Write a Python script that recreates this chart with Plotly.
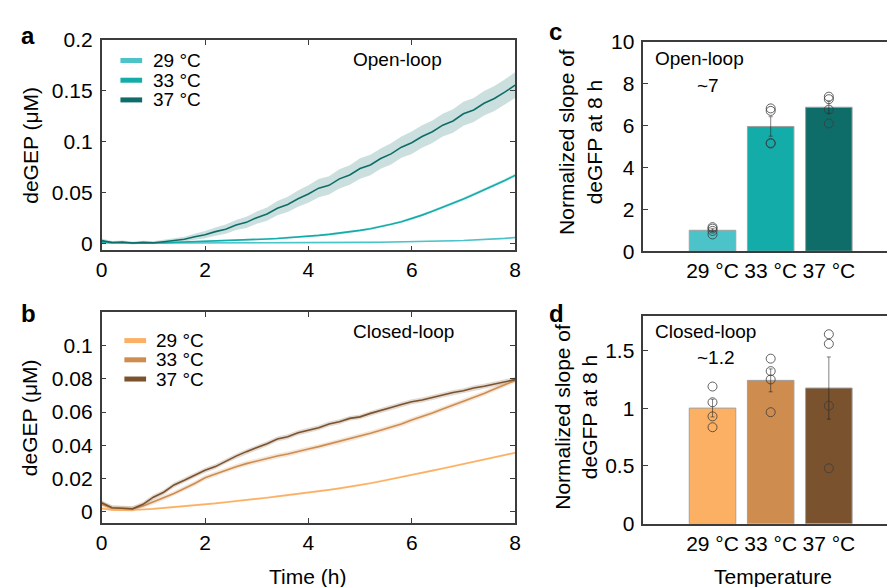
import plotly.graph_objects as go
import numpy as np

W, H = 893, 587
FONT = "Liberation Sans, Arial, sans-serif"

# ---------------- data ----------------
TIME_H = [round(0.2 * i, 1) for i in range(41)]
TEMPS = ["29 °C", "33 °C", "37 °C"]

# panel a: open-loop deGFP (uM)
OPEN_29 = [0.0010, 0.0008, 0.0007, 0.0006, 0.0006, 0.0006, 0.0006, 0.0006, 0.0006, 0.0006,
           0.0007, 0.0007, 0.0007, 0.0007, 0.0008, 0.0008, 0.0008, 0.0008, 0.0009, 0.0009,
           0.0009, 0.0010, 0.0010, 0.0011, 0.0011, 0.0012, 0.0013, 0.0014, 0.0015, 0.0016,
           0.0018, 0.0020, 0.0022, 0.0025, 0.0028, 0.0031, 0.0035, 0.0040, 0.0045, 0.0052, 0.0060]
OPEN_33 = [0.0020, 0.0010, 0.0008, 0.0006, 0.0006, 0.0007, 0.0009, 0.0012, 0.0015, 0.0018,
           0.0021, 0.0025, 0.0028, 0.0032, 0.0036, 0.0041, 0.0046, 0.0051, 0.0057, 0.0064,
           0.0072, 0.0081, 0.0091, 0.0102, 0.0115, 0.0130, 0.0147, 0.0167, 0.0190, 0.0215,
           0.0245, 0.0280, 0.0317, 0.0356, 0.0396, 0.0438, 0.0482, 0.0527, 0.0573, 0.0620, 0.0670]
OPEN_37 = [0.0030, 0.0012, 0.0016, 0.0006, 0.0013, 0.0009, 0.0019, 0.0031, 0.0043, 0.0068,
           0.0088, 0.0118, 0.0142, 0.0183, 0.0209, 0.0255, 0.0291, 0.0348, 0.0385, 0.0441,
           0.0487, 0.0545, 0.0572, 0.0636, 0.0674, 0.0738, 0.0772, 0.0835, 0.0881, 0.0947,
           0.0991, 0.1052, 0.1098, 0.1163, 0.1204, 0.1275, 0.1312, 0.1378, 0.1425, 0.1487, 0.1555]
OPEN_29_SD = [0.0006] * 41
OPEN_33_SD = [0.0008, 0.0008, 0.0008, 0.0008, 0.0008, 0.0008, 0.0008, 0.0008, 0.0008, 0.0008,
              0.0008, 0.0008, 0.0008, 0.0008, 0.0008, 0.0009, 0.0009, 0.0009, 0.0009, 0.0010,
              0.0010, 0.0010, 0.0011, 0.0011, 0.0011, 0.0012, 0.0012, 0.0012, 0.0013, 0.0013,
              0.0014, 0.0014, 0.0015, 0.0015, 0.0016, 0.0016, 0.0017, 0.0017, 0.0018, 0.0018, 0.0019]
OPEN_37_SD = [0.0020, 0.0015, 0.0015, 0.0015, 0.0015, 0.0015, 0.0020, 0.0020, 0.0025, 0.0030,
              0.0035, 0.0040, 0.0045, 0.0050, 0.0055, 0.0060, 0.0065, 0.0070, 0.0075, 0.0080,
              0.0085, 0.0090, 0.0090, 0.0095, 0.0095, 0.0100, 0.0100, 0.0100, 0.0105, 0.0105,
              0.0110, 0.0110, 0.0110, 0.0112, 0.0115, 0.0117, 0.0118, 0.0120, 0.0122, 0.0124, 0.0126]

# panel b: closed-loop deGFP (uM)
CLOSED_29 = [0.0020, 0.0012, 0.0010, 0.0011, 0.0014, 0.0018, 0.0023, 0.0028, 0.0034, 0.0039,
             0.0045, 0.0051, 0.0058, 0.0064, 0.0071, 0.0078, 0.0085, 0.0093, 0.0100, 0.0108,
             0.0115, 0.0124, 0.0132, 0.0141, 0.0150, 0.0160, 0.0172, 0.0184, 0.0196, 0.0209,
             0.0222, 0.0235, 0.0248, 0.0261, 0.0274, 0.0287, 0.0301, 0.0314, 0.0328, 0.0341, 0.0355]
CLOSED_33 = [0.0045, 0.0022, 0.0020, 0.0019, 0.0035, 0.0060, 0.0085, 0.0110, 0.0140, 0.0170,
             0.0205, 0.0228, 0.0252, 0.0271, 0.0290, 0.0306, 0.0322, 0.0336, 0.0348, 0.0361,
             0.0378, 0.0392, 0.0408, 0.0421, 0.0440, 0.0456, 0.0472, 0.0490, 0.0508, 0.0528,
             0.0552, 0.0572, 0.0594, 0.0618, 0.0641, 0.0665, 0.0690, 0.0712, 0.0738, 0.0762, 0.0790]
CLOSED_37 = [0.0055, 0.0025, 0.0022, 0.0018, 0.0045, 0.0088, 0.0118, 0.0162, 0.0190, 0.0222,
             0.0250, 0.0272, 0.0305, 0.0335, 0.0362, 0.0385, 0.0410, 0.0438, 0.0452, 0.0475,
             0.0488, 0.0505, 0.0528, 0.0542, 0.0562, 0.0571, 0.0592, 0.0608, 0.0628, 0.0645,
             0.0662, 0.0672, 0.0688, 0.0702, 0.0718, 0.0728, 0.0745, 0.0755, 0.0768, 0.0782, 0.0795]
CLOSED_29_SD = [0.0007] * 41
CLOSED_33_SD = [0.0015] * 41
CLOSED_37_SD = [0.0015] * 41

# panels c, d: normalized slope at 8 h (individual replicates)
OPEN_SLOPE_PTS = [[1.15, 1.08, 0.97, 0.80],
                  [6.82, 6.70, 5.17, 5.14],
                  [7.38, 7.26, 6.76, 6.10]]
CLOSED_SLOPE_PTS = [[1.187, 1.051, 0.929, 0.835],
                    [1.428, 1.320, 1.248, 0.965],
                    [1.639, 1.556, 1.021, 0.480]]

A_COLORS = ["#4cc3c9", "#14aca9", "#0f6d69"]
B_COLORS = ["#fcb063", "#cf8c4f", "#7a522e"]


def dx(px):
    return px / W


def dy(px):
    return 1 - px / H


def rgba(hexc, a):
    h = hexc.lstrip("#")
    r, g, b = int(h[0:2], 16), int(h[2:4], 16), int(h[4:6], 16)
    return f"rgba({r},{g},{b},{a})"


fig = go.Figure()


def add_curves(series, sds, colors, xa, ya):
    t = TIME_H
    for y, sd, c in zip(series, sds, colors):
        y = np.array(y)
        sd = np.array(sd)
        up = (y + sd).tolist()
        lo = (y - sd).tolist()
        fig.add_trace(go.Scatter(x=t + t[::-1], y=up + lo[::-1], fill="toself",
                                 fillcolor=rgba(c, 0.22), line=dict(width=0),
                                 hoverinfo="skip", showlegend=False, xaxis=xa, yaxis=ya))
    for y, c, name in zip(series, colors, TEMPS):
        fig.add_trace(go.Scatter(x=t, y=y, mode="lines", name=name,
                                 line=dict(color=c, width=1.6),
                                 showlegend=False, xaxis=xa, yaxis=ya))


add_curves([OPEN_29, OPEN_33, OPEN_37], [OPEN_29_SD, OPEN_33_SD, OPEN_37_SD],
           A_COLORS, "x", "y")
add_curves([CLOSED_29, CLOSED_33, CLOSED_37], [CLOSED_29_SD, CLOSED_33_SD, CLOSED_37_SD],
           B_COLORS, "x2", "y2")


def add_bars(pts, colors, xa, ya):
    xs = [1, 2, 3]
    means = [float(np.mean(p)) for p in pts]
    sems = [float(np.std(p, ddof=1) / np.sqrt(len(p))) for p in pts]
    fig.add_trace(go.Bar(x=xs, y=means, width=0.8,
                         marker=dict(color=colors, line=dict(color="#a0a0a0", width=1)),
                         error_y=dict(type="data", array=sems, color="rgba(30,30,30,0.55)",
                                      thickness=1, width=2),
                         showlegend=False, xaxis=xa, yaxis=ya))
    px_, py_ = [], []
    for x, p in zip(xs, pts):
        px_ += [x] * len(p)
        py_ += p
    fig.add_trace(go.Scatter(x=px_, y=py_, mode="markers",
                             marker=dict(symbol="circle-open", size=9,
                                         color="rgba(60,60,60,0.8)", line=dict(width=1)),
                             showlegend=False, xaxis=xa, yaxis=ya))


add_bars(OPEN_SLOPE_PTS, A_COLORS, "x3", "y3")
add_bars(CLOSED_SLOPE_PTS, B_COLORS, "x4", "y4")

AX = dict(showline=True, linecolor="#3c3c3c", linewidth=1.5, showgrid=False, zeroline=False,
          ticks="inside", ticklen=5, tickcolor="#3c3c3c", tickwidth=1.2,
          tickfont=dict(size=21, color="black", family=FONT))

fig.update_layout(
    width=W, height=H, margin=dict(l=0, r=0, t=0, b=0),
    paper_bgcolor="white", plot_bgcolor="white",
    font=dict(family=FONT, color="black"),
    showlegend=False,
    xaxis=dict(AX, domain=[dx(97), dx(516)], range=[0, 8], tickvals=[0, 2, 4, 6, 8],
               mirror="ticks", anchor="y"),
    yaxis=dict(AX, domain=[dy(248), dy(29)], range=[-0.0065, 0.2],
               tickvals=[0, 0.05, 0.1, 0.15, 0.2], ticktext=["0", "0.05", "0.1", "0.15", "0.2"],
               mirror="ticks", anchor="x", ticklabelstandoff=3),
    xaxis2=dict(AX, domain=[dx(97), dx(516)], range=[0, 8], tickvals=[0, 2, 4, 6, 8],
                mirror="ticks", anchor="y2"),
    yaxis2=dict(AX, domain=[dy(532), dy(312.5)], range=[-0.0068, 0.12],
                tickvals=[0, 0.02, 0.04, 0.06, 0.08, 0.1],
                ticktext=["0", "0.02", "0.04", "0.06", "0.08", "0.1"],
                mirror="ticks", anchor="x2", ticklabelstandoff=3),
    xaxis3=dict(AX, domain=[dx(646), 1.0], range=[-0.19, 4.0], tickvals=[1, 2, 3],
                ticktext=TEMPS, ticks="", mirror=True, anchor="y3"),
    yaxis3=dict(AX, domain=[dy(249), dy(31)], range=[0, 10], tickvals=[0, 2, 4, 6, 8, 10],
                mirror=False, anchor="x3", ticklabelstandoff=3),
    xaxis4=dict(AX, domain=[dx(646), 1.0], range=[-0.19, 4.0], tickvals=[1, 2, 3],
                ticktext=TEMPS, ticks="", mirror=True, anchor="y4"),
    yaxis4=dict(AX, domain=[dy(532.7), dy(316)], range=[0, 1.8], tickvals=[0, 0.5, 1, 1.5],
                ticktext=["0", "0.5", "1", "1.5"], mirror=False, anchor="x4",
                ticklabelstandoff=3),
)


def ann(text, x, y, size=19, xanchor="center", angle=0, bold=False):
    if bold:
        text = f"<b>{text}</b>"
    fig.add_annotation(text=text, x=dx(x), y=dy(y), xref="paper", yref="paper",
                       xanchor=xanchor, yanchor="middle", showarrow=False, textangle=angle,
                       font=dict(size=size, family=FONT, color="black"))


# hand-drawn legends (swatch + label) for panels a and b
def legend(colors, x_sw, x_txt, ys):
    for c, name, y in zip(colors, TEMPS, ys):
        fig.add_shape(type="line", xref="paper", yref="paper",
                      x0=dx(x_sw), x1=dx(x_sw + 22), y0=dy(y), y1=dy(y),
                      line=dict(color=c, width=5))
        ann(name, x_txt, y, size=19, xanchor="left")


legend(A_COLORS, 116, 147, [50.5, 71, 91.5])
legend(B_COLORS, 120, 150, [342, 362, 382])

ann("a", 22, 24, size=24, bold=True)
ann("b", 23, 314, size=24, bold=True)
ann("c", 557, 20, size=24, bold=True)
ann("d", 558, 314, size=24, bold=True)
ann("Open-loop", 397, 49)
ann("Closed-loop", 403, 333)
ann("Open-loop", 656, 48, xanchor="left")
ann("~7", 712, 77)
ann("Closed-loop", 656, 333, xanchor="left")
ann("~1.2", 720, 360)
ann("deGEP (μM)", 24, 138.5, size=21, angle=-90)
ann("deGEP (μM)", 24, 422, size=21, angle=-90)
ann("Time (h)", 306, 588, size=21)
ann("Temperature", 777, 588, size=21)
ann("Normalized slope of<br>deGFP at 8 h", 582, 135, size=21, angle=-90)
ann("Normalized slope of<br>deGFP at 8 h", 577, 421, size=21, angle=-90)

fig.write_html("out.html")
